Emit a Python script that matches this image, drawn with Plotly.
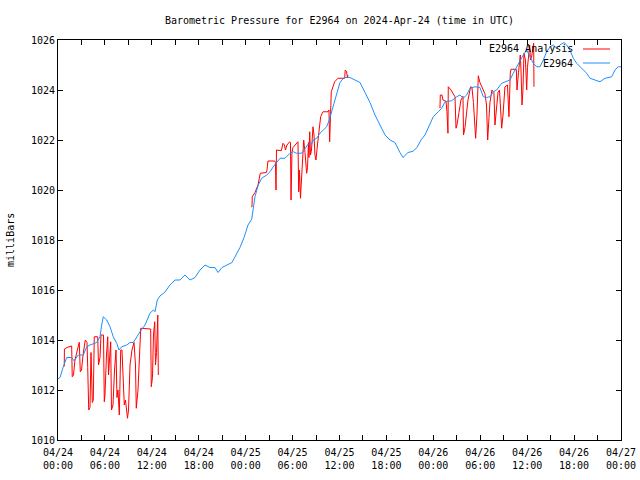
import pandas as pd
import plotly.graph_objects as go

START = pd.Timestamp("2024-04-24 00:00")

# Observed pressure (hours since 2024-04-24 00:00 UTC, millibars)
obs_hours = [0, 0.26, 0.64, 1.11, 1.75, 2.05, 2.60, 3.24, 3.67, 4.09, 4.95, 5.37, 5.59, 5.79,
             6.23, 6.65, 7.07, 7.51, 7.80, 8.15, 8.79, 9.21, 9.63, 10.06, 10.49, 11.13, 11.76,
             12.19, 12.40, 12.70, 13.04, 13.68, 14.32, 14.96, 15.60, 16.24, 16.88, 17.52, 18.16,
             18.80, 19.44, 20.08, 20.46, 20.97, 21.61, 22.25, 22.76, 23.27, 23.79, 24.30, 24.77,
             25.19, 25.61, 26.05, 26.69, 27.11, 27.53, 27.97, 28.39, 29.03, 29.67, 30.09, 30.52,
             31.16, 31.59, 32.01, 32.44, 32.65, 33.08, 33.50, 33.93, 34.36, 34.69, 35.04, 35.55,
             36.06, 36.57, 37.34, 37.98, 38.62, 39.26, 39.90, 40.54, 41.18, 41.82, 42.46, 43.09,
             43.73, 44.12, 44.76, 45.40, 45.91, 46.42, 46.93, 47.57, 47.99, 48.63, 49.07, 49.49,
             50.35, 50.98, 51.41, 51.83, 52.26, 52.69, 53.32, 53.96, 54.39, 54.82, 55.24, 55.67,
             56.10, 56.74, 57.16, 57.80, 58.22, 58.66, 59.08, 59.50, 59.94, 60.36, 60.78, 61.21,
             61.64, 62.06, 62.49, 62.92, 63.34, 63.77, 64.19, 64.71, 65.05, 65.47, 65.90, 66.33,
             66.75, 67.18, 67.61, 68.03, 68.67, 69.31, 69.95, 70.81, 71.23, 71.65, 71.99]
obs_values = [1012.45, 1012.5, 1012.9, 1013.3, 1013.3, 1013.17, 1013.4, 1013.4, 1013.73, 1013.8,
              1013.9, 1014.13, 1014.6, 1014.93, 1014.8, 1014.53, 1014.13, 1013.87, 1013.6,
              1013.73, 1013.8, 1013.9, 1013.9, 1014.13, 1014.33, 1014.6, 1015.07, 1015.2,
              1015.13, 1015.6, 1015.76, 1015.92, 1016.2, 1016.4, 1016.4, 1016.6, 1016.4, 1016.5,
              1016.8, 1017.0, 1016.9, 1016.9, 1016.7, 1016.9, 1017.0, 1017.1, 1017.4, 1017.7,
              1018.1, 1018.6, 1018.83, 1019.73, 1020.2, 1020.47, 1020.6, 1020.73, 1020.93,
              1021.13, 1021.27, 1021.27, 1021.47, 1021.53, 1021.47, 1021.47, 1021.67, 1021.84,
              1021.84, 1022.0, 1022.07, 1022.27, 1022.4, 1022.53, 1022.8, 1023.2, 1023.8, 1024.3,
              1024.5, 1024.5, 1024.4, 1024.3, 1023.9, 1023.5, 1023.0, 1022.6, 1022.2, 1022.0,
              1021.9, 1021.5, 1021.3, 1021.5, 1021.55, 1021.7, 1022.0, 1022.2, 1022.6, 1022.93,
              1023.13, 1023.27, 1023.53, 1023.57, 1023.73, 1023.8, 1023.67, 1023.8, 1024.07,
              1024.13, 1024.1, 1023.73, 1023.7, 1023.73, 1023.93, 1024.0, 1024.27, 1024.33,
              1024.4, 1024.67, 1024.93, 1025.13, 1025.4, 1025.6, 1025.33, 1025.07, 1024.93,
              1024.93, 1025.2, 1025.53, 1025.73, 1025.8, 1025.67, 1025.8, 1025.9, 1025.8, 1025.6,
              1025.27, 1025.07, 1024.93, 1024.8, 1024.67, 1024.47, 1024.4, 1024.33, 1024.47,
              1024.53, 1024.8, 1024.93, 1024.93]

# Analysis pressure, three 12-hour runs (None separates the runs)
ana_hours = [0.68, 0.80, 0.82, 1.15, 1.75, 1.82, 1.98, 2.17, 2.72, 2.85, 3.01, 3.20, 3.49, 3.71,
             3.80, 3.93, 4.09, 4.22, 4.39, 4.51, 4.64, 5.08, 5.18, 5.37, 5.50, 5.82, 5.92, 6.01,
             6.20, 6.36, 6.46, 6.74, 6.84, 7.03, 7.23, 7.42, 7.54, 7.67, 7.84, 8.02, 8.18, 8.38,
             8.48, 8.63, 8.89, 9.02, 9.21, 9.46, 9.72, 9.91, 10.01, 10.23, 10.42, 10.58, 11.85,
             11.93, 12.08, 12.21, 12.37, 12.47, 12.60, 12.76, 12.83,
             None,
             24.72, 24.81, 24.84, 25.19, 25.58, 25.79, 25.87, 26.64, 26.73, 26.85, 27.71, 27.81,
             27.88, 27.94, 28.56, 28.77, 28.96, 29.09, 29.28, 29.63, 29.73, 29.80, 29.92, 30.05,
             30.69, 30.78, 30.88, 31.01, 31.14, 31.27, 31.42, 31.59, 31.80, 31.91, 32.03, 32.10,
             32.19, 32.29, 32.42, 32.61, 32.74, 32.86, 32.99, 33.18, 33.38, 33.59, 33.76, 33.89,
             34.53, 34.65, 34.74, 34.85, 34.95, 35.38, 35.81, 36.66, 36.73, 36.89, 37.02, 37.08,
             None,
             48.85, 48.89, 49.11, 49.23, 49.62, 49.74, 49.87, 49.91, 50.26, 50.51, 50.77, 50.90,
             51.02, 51.28, 51.53, 51.79, 51.86, 52.05, 52.24, 52.43, 52.77, 52.94, 53.13, 53.41,
             53.58, 53.75, 53.96, 54.39, 54.60, 54.80, 54.95, 55.12, 55.24, 55.50, 55.75, 55.88,
             56.07, 56.27, 56.46, 56.74, 56.91, 57.16, 57.48, 57.67, 57.84, 57.93, 58.61, 58.70,
             58.89, 59.12, 59.21, 59.34, 59.46, 59.59, 59.78, 59.94, 60.04, 60.32, 60.42, 60.55,
             60.83, 60.87]
ana_values = [1012.93, 1012.95, 1013.64, 1013.7, 1013.76, 1012.53, 1012.6, 1013.2, 1013.91,
              1012.73, 1012.8, 1013.4, 1014.0, 1013.9, 1012.9, 1011.2, 1011.3, 1013.5, 1011.5,
              1011.6, 1014.13, 1014.13, 1013.0, 1013.3, 1014.2, 1014.2, 1011.53, 1011.8, 1013.4,
              1014.13, 1012.6, 1013.93, 1011.2, 1011.4, 1012.8, 1013.6, 1011.7, 1012.0, 1011.0,
              1013.6, 1013.6, 1012.2, 1011.4, 1011.6, 1010.87, 1011.2, 1013.0, 1013.6, 1013.9,
              1013.0, 1011.27, 1012.0, 1013.6, 1014.47, 1014.44, 1012.13, 1012.5, 1014.2,
              1014.73, 1013.0, 1013.5, 1015.0, 1012.6,
              None,
              1019.33, 1019.33, 1019.73, 1019.9, 1020.2, 1020.47, 1020.67, 1020.7, 1020.8,
              1021.16, 1021.16, 1021.1, 1020.0, 1021.6, 1021.57, 1021.87, 1021.8, 1021.6, 1021.8,
              1021.93, 1021.9, 1019.6, 1021.5, 1021.7, 1021.93, 1019.93, 1020.8, 1019.67, 1020.3,
              1021.0, 1022.0, 1021.5, 1020.67, 1020.9, 1021.9, 1021.3, 1022.33, 1021.4, 1021.6,
              1022.53, 1022.2, 1021.4, 1021.2, 1021.8, 1022.3, 1022.93, 1023.05, 1023.13,
              1023.13, 1023.2, 1021.93, 1022.9, 1023.93, 1024.33, 1024.47, 1024.47, 1024.8,
              1024.75, 1024.5, 1024.6,
              None,
              1023.27, 1023.8, 1023.8, 1023.6, 1023.55, 1023.13, 1022.27, 1024.13, 1024.0,
              1023.85, 1023.73, 1022.47, 1022.6, 1023.1, 1023.6, 1023.75, 1022.2, 1022.5, 1023.1,
              1023.6, 1024.13, 1024.1, 1023.5, 1022.07, 1023.0, 1024.57, 1024.3, 1023.95,
              1023.85, 1023.4, 1022.0, 1022.9, 1023.5, 1024.0, 1023.9, 1022.6, 1023.3, 1023.9,
              1024.0, 1022.47, 1023.0, 1024.13, 1024.2, 1022.93, 1024.67, 1024.83, 1024.83,
              1024.0, 1024.7, 1025.4, 1024.8, 1023.4, 1024.0, 1025.47, 1025.2, 1024.0, 1024.9,
              1025.8, 1025.2, 1025.3, 1025.87, 1024.13]

tick_hours = list(range(0, 73, 3))
y_ticks = [1010, 1012, 1014, 1016, 1018, 1020, 1022, 1024, 1026]
series_names = ["E2964 Analysis", "E2964"]
series_colors = ["#ff0000", "#1e8fff"]


def to_time(h):
    return None if h is None else START + pd.Timedelta(hours=h)


tick_vals = [to_time(h) for h in tick_hours]
tick_text = [(to_time(h).strftime("%m/%d<br>%H:%M") if h % 6 == 0 else "") for h in tick_hours]

FONT = "DejaVu Sans Mono"

fig = go.Figure()
fig.add_trace(go.Scatter(x=[to_time(h) for h in ana_hours], y=ana_values, mode="lines",
                         name=series_names[0], line=dict(color=series_colors[0], width=1),
                         connectgaps=False, showlegend=False))
fig.add_trace(go.Scatter(x=[to_time(h) for h in obs_hours], y=obs_values, mode="lines",
                         name=series_names[1], line=dict(color=series_colors[1], width=1),
                         showlegend=False))

axis_common = dict(showline=True, linecolor="black", linewidth=1, mirror="ticks",
                   ticks="inside", ticklen=5, tickcolor="black", tickwidth=1,
                   showgrid=False, zeroline=False, automargin=False,
                   tickfont=dict(family=FONT, size=10, color="black"))

fig.update_xaxes(type="date", range=[to_time(0), to_time(72)], tickmode="array",
                 tickvals=tick_vals, ticktext=tick_text, ticklabelstandoff=3, **axis_common)
fig.update_yaxes(range=[1010, 1026], tickmode="array", tickvals=y_ticks,
                 ticktext=[str(v) for v in y_ticks], **axis_common)

# legend drawn gnuplot-style: text right-aligned, sample line to its right
legend_y = [0.9775, 0.9425]
for name, color, ly in zip(series_names, series_colors, legend_y):
    fig.add_annotation(xref="paper", yref="paper", x=0.9183, y=ly, text=name,
                       showarrow=False, xanchor="right", yanchor="middle",
                       font=dict(family=FONT, size=10, color="black"))
    fig.add_shape(type="line", xref="paper", yref="paper", x0=0.9325, x1=0.9805,
                  y0=ly, y1=ly, line=dict(color=color, width=1))

fig.add_annotation(xref="paper", yref="paper", x=-0.0853, y=0.5, text="milliBars",
                   textangle=-90, showarrow=False, xanchor="center", yanchor="middle",
                   font=dict(family=FONT, size=10, color="black"))

fig.update_layout(
    width=640, height=480, autosize=False,
    margin=dict(l=58, r=19, t=40, b=40, autoexpand=False),
    paper_bgcolor="white", plot_bgcolor="white",
    title=dict(text="Barometric Pressure for E2964 on 2024-Apr-24 (time in UTC)",
               x=(339.5 / 640), xanchor="center", y=1 - 20 / 480, yanchor="middle",
               font=dict(family=FONT, size=10, color="black")),
    showlegend=False,
)

fig.write_html("out.html", config={"displayModeBar": False},
               post_script="document.body.style.margin='0';document.body.style.overflow='hidden';")
